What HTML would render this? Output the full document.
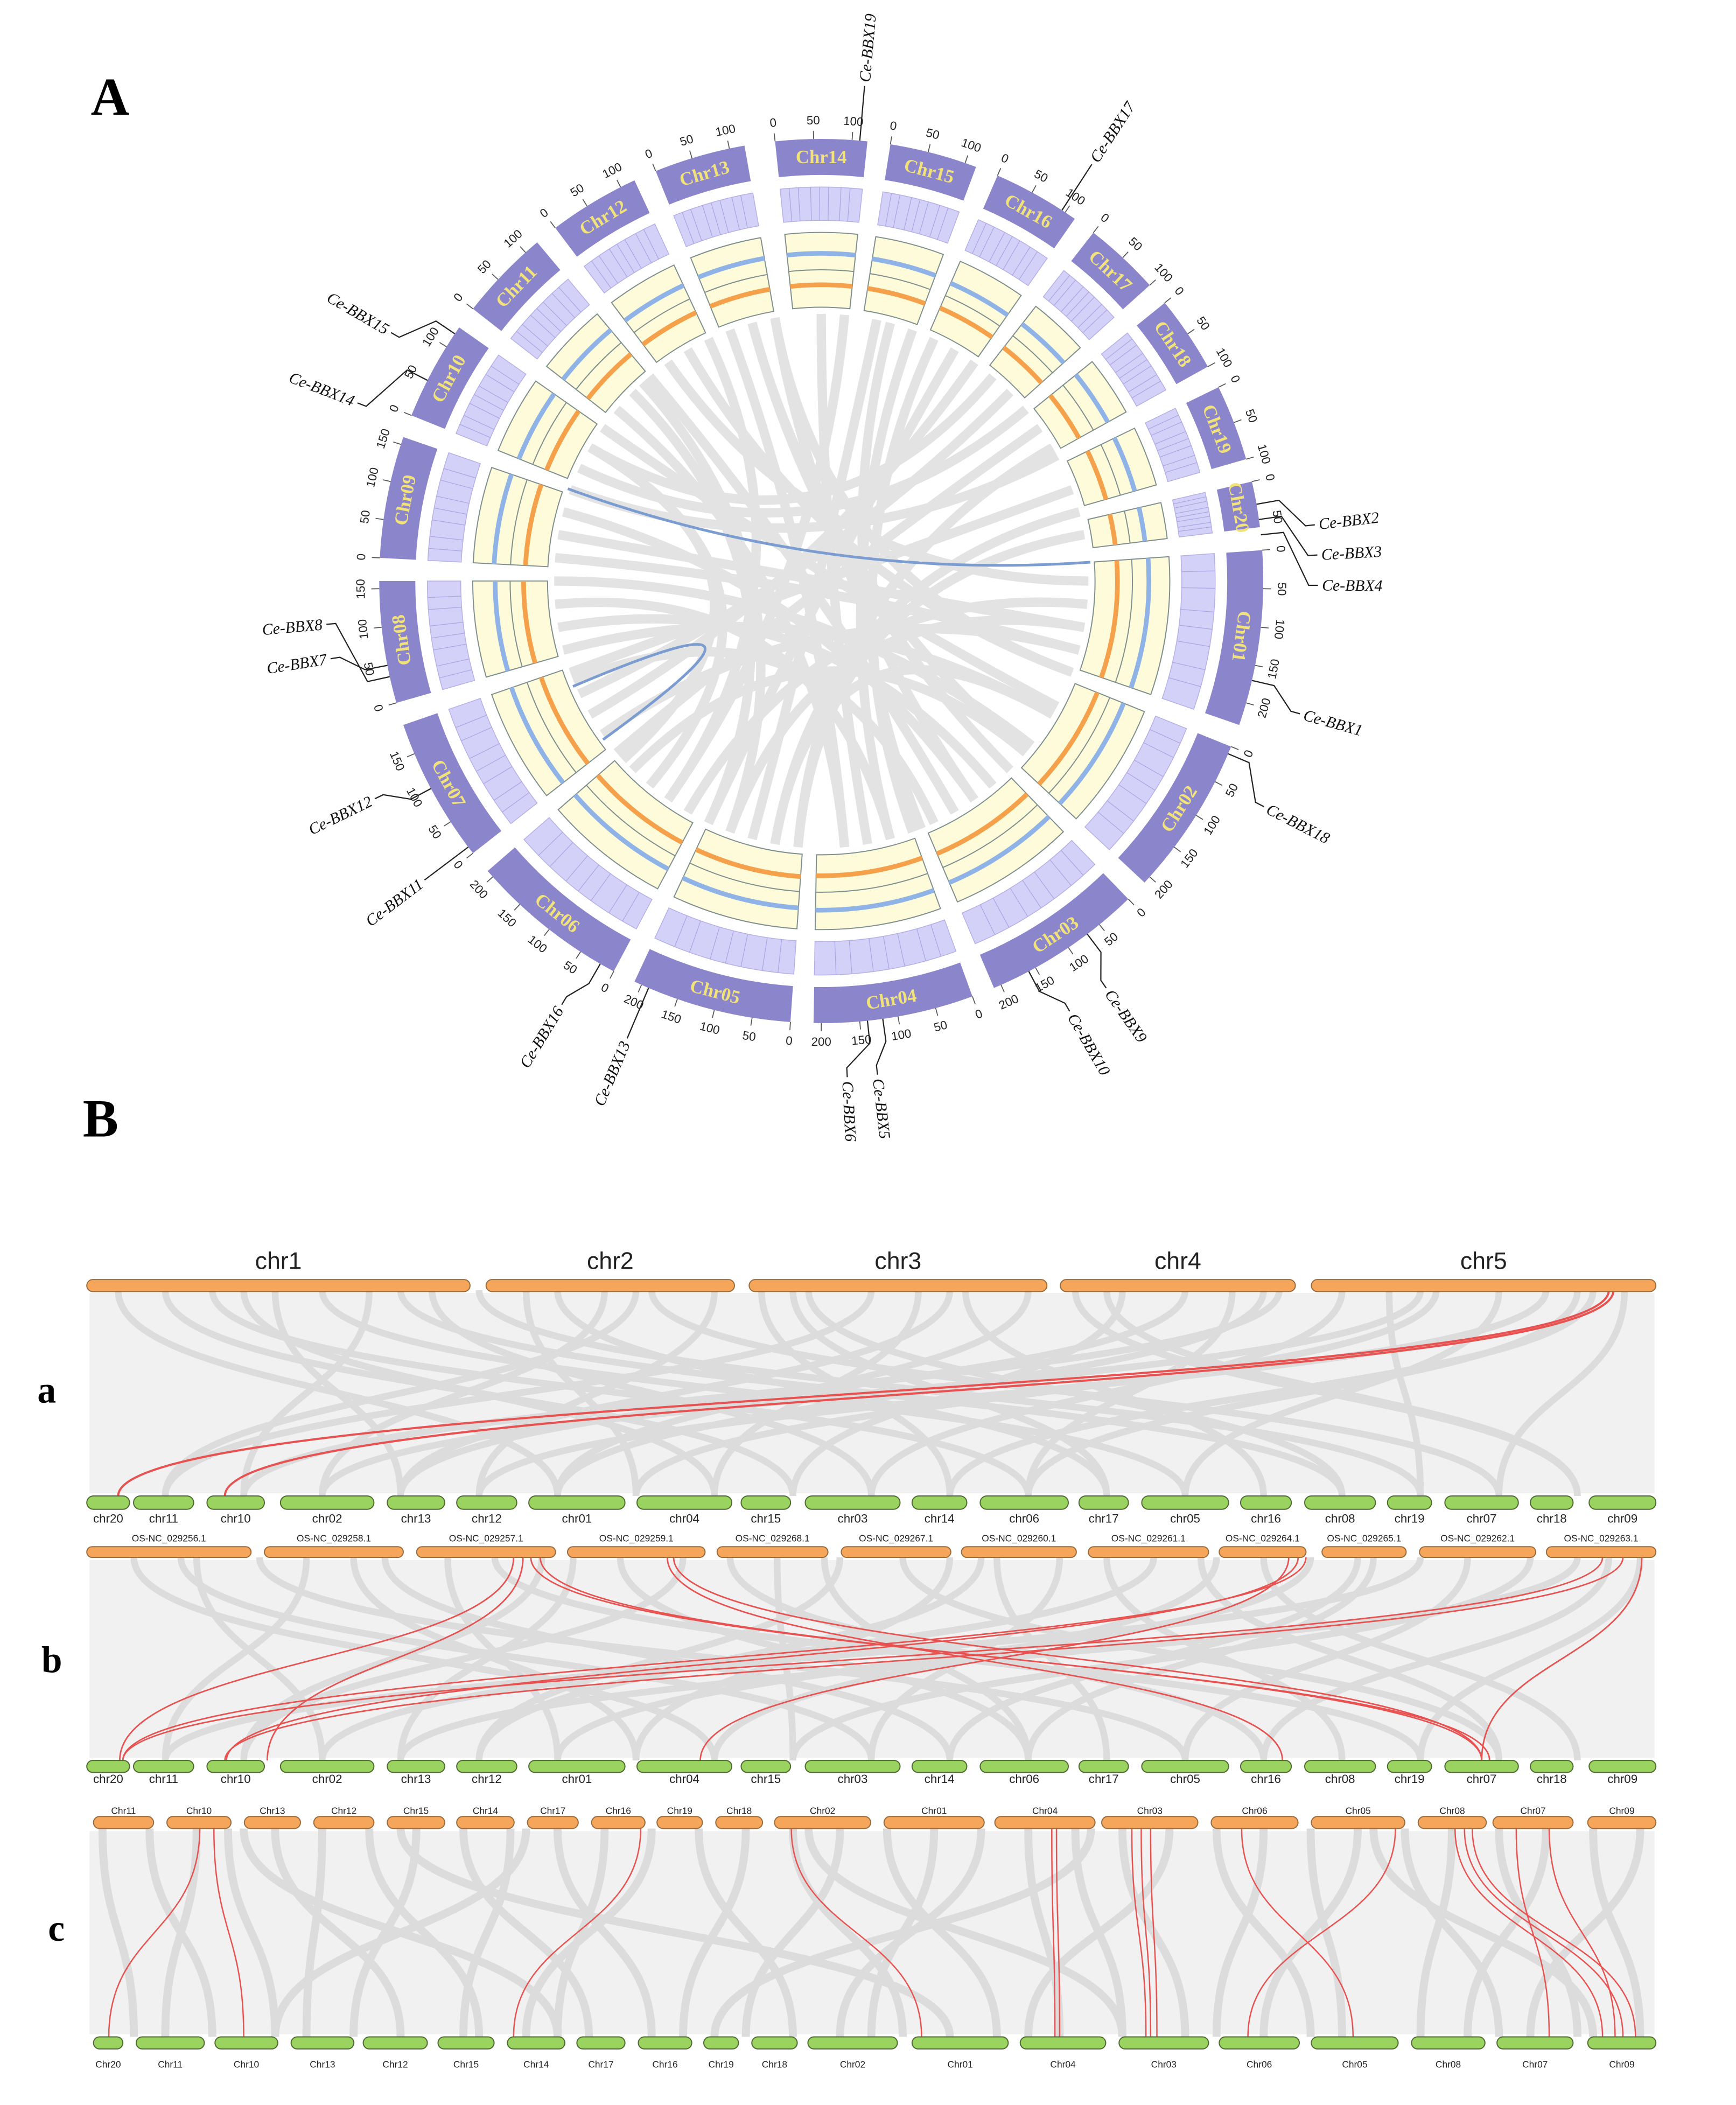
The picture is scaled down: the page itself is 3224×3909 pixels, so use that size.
<!DOCTYPE html>
<html><head><meta charset="utf-8"><style>
html,body{margin:0;padding:0;background:#fff;}
svg{display:block;}
</style></head><body>
<svg id="fig" xmlns="http://www.w3.org/2000/svg" width="3224" height="3909" viewBox="0 0 1300 1576" preserveAspectRatio="none">
<rect width="1300" height="1576" fill="#fff"/>
<text x="68" y="86" font-family="Liberation Serif, serif" font-weight="bold" font-size="40">A</text>
<text x="62" y="851" font-family="Liberation Serif, serif" font-weight="bold" font-size="40">B</text>
<text x="28" y="1050" font-family="Liberation Serif, serif" font-weight="bold" font-size="28">a</text>
<text x="31" y="1252" font-family="Liberation Serif, serif" font-weight="bold" font-size="28">b</text>
<text x="36" y="1453" font-family="Liberation Serif, serif" font-weight="bold" font-size="28">c</text>
<g id="circos"></g>
<g id="synteny"></g>
</svg>
<script>
// ---------- Circos data ----------
const chrNames = ["Chr14","Chr15","Chr16","Chr17","Chr18","Chr19","Chr20","Chr01","Chr02","Chr03","Chr04","Chr05","Chr06","Chr07","Chr08","Chr09","Chr10","Chr11","Chr12","Chr13"];
const chrSizes = [120,115,115,100,100,100,60,230,210,210,210,210,210,190,160,160,130,120,120,120];
const blueLevel = [0.72,0.7,0.68,0.7,0.72,0.7,0.7,0.72,0.7,0.72,0.74,0.72,0.7,0.72,0.7,0.72,0.7,0.72,0.7,0.72];
const orangeLevel = [0.3,0.3,0.32,0.3,0.28,0.3,0.3,0.3,0.32,0.3,0.28,0.3,0.3,0.3,0.32,0.3,0.3,0.3,0.3,0.3];
const linkFrom = [12,25,40,55,70,95,100,110,120,130,140,150,165,175,185,200,215,225,240,255,265,285,295,310,325,335,345,0,30,45,62,80,105,118,128,145,158,190,205,220,248,275,300,318,350];
const linkTo   = [195,160,300,230,250,210,280,330,190,345,260,320,20,340,60,100,5,130,35,120,165,145,50,175,90,215,135,170,205,245,290,185,235,305,270,350,15,75,315,300,155,105,228,200,110];
const blueFrom = [290,247];
const blueTo = [86,234];
const geneNames = ["Ce-BBX19","Ce-BBX17","Ce-BBX2","Ce-BBX3","Ce-BBX4","Ce-BBX1","Ce-BBX18","Ce-BBX9","Ce-BBX10","Ce-BBX5","Ce-BBX6","Ce-BBX13","Ce-BBX16","Ce-BBX11","Ce-BBX12","Ce-BBX7","Ce-BBX8","Ce-BBX14","Ce-BBX15"];
const genePos = [5,33,80,82,84,103,113,143,152,172,174,203,210,233,242,259,257.5,297,304];
const geneLabelAng = [5,33,83.5,87,90.5,105.5,117,145,150,173.5,177,203,211.5,233,244,261,265,291,300];

const NS="http://www.w3.org/2000/svg";
const cx=615, cy=435, scale=0.1, gap=3, start=-6;
function P(r,a){const t=a*Math.PI/180;return [cx+r*Math.sin(t), cy-r*Math.cos(t)];}
function sector(r1,r2,a1,a2){
  const p1=P(r2,a1),p2=P(r2,a2),p3=P(r1,a2),p4=P(r1,a1);const lg=(a2-a1)>180?1:0;
  return `M${p1} A${r2},${r2} 0 ${lg} 1 ${p2} L${p3} A${r1},${r1} 0 ${lg} 0 ${p4}Z`;
}
function arcPath(r,a1,a2){const p1=P(r,a1),p2=P(r,a2);return `M${p1} A${r},${r} 0 0 1 ${p2}`;}
function mk(tag,attrs,parent){const e=document.createElementNS(NS,tag);for(const k in attrs)e.setAttribute(k,attrs[k]);parent.appendChild(e);return e;}
const circ=document.getElementById('circos');

// angles
const chrStart=[];let acc=start;
chrSizes.forEach((s,i)=>{chrStart.push(acc);acc+=s*scale+gap;});

// inner gray links
linkFrom.forEach((a,i)=>{
  const p1=P(200,a),p2=P(200,linkTo[i]);
  const el=mk('path',{d:`M${p1} Q${cx},${cy} ${p2}`,fill:'none',stroke:'#e3e3e3','stroke-width':7},circ);
  
  
});
blueFrom.forEach((a,i)=>{
  const p1=P(202,a),p2=P(202,blueTo[i]);
  const el=mk('path',{d:`M${p1} Q${cx},${cy} ${p2}`,fill:'none',stroke:'#7a9cd0','stroke-width':2},circ);
  
  
});

chrNames.forEach((n,i)=>{
  const a1=chrStart[i],a2=a1+chrSizes[i]*scale;
  let el=mk('path',{d:sector(304,331,a1,a2),fill:'#8b86cc'},circ);
  
  
  el=mk('path',{d:sector(270,295,a1,a2),fill:'#d3d1f7',stroke:'#b3b0e6','stroke-width':0.6},circ);
  
  
  for(let k=1;k<8;k++){const aa=a1+(a2-a1)*((k*0.37)%1);const q1=P(270,aa),q2=P(295,aa);
    const ln=mk('line',{x1:q1[0],y1:q1[1],x2:q2[0],y2:q2[1],stroke:'#a9a5e4','stroke-width':0.5},circ);
    
    }
  el=mk('path',{d:sector(205,261,a1,a2),fill:'#fdfbd9',stroke:'#7f8f8f','stroke-width':0.8},circ);
  
  
  el=mk('path',{d:arcPath(233,a1,a2),fill:'none',stroke:'#7f8f8f','stroke-width':0.8},circ);
  
  
  el=mk('path',{d:arcPath(205+56*blueLevel[i],a1,a2),fill:'none',stroke:'#8fb3e6','stroke-width':3.5},circ);
  
  
  el=mk('path',{d:arcPath(205+56*orangeLevel[i],a1,a2),fill:'none',stroke:'#f5a04a','stroke-width':3.5},circ);
  
  
  // label
  const mid=(a1+a2)/2;const lp=P(317.5,mid);
  let rot = (mid>100 && mid<260)? mid-180 : mid;
  el=mk('text',{x:lp[0],y:lp[1],'text-anchor':'middle','dominant-baseline':'central',transform:`rotate(${rot} ${lp[0]} ${lp[1]})`,'font-family':'Liberation Serif, serif','font-weight':'bold','font-size':14,fill:'#f2e27a'},circ);
  el.textContent=n;
  
  
  // ticks
  for(let v=0;v<=chrSizes[i];v+=50){
    const aa=a1+v*scale;const t1=P(331,aa),t2=P(337,aa),tp=P(345,aa);
    el=mk('line',{x1:t1[0],y1:t1[1],x2:t2[0],y2:t2[1],stroke:'#555','stroke-width':0.7},circ);
    
    
    const tr=(aa>100&&aa<260)?aa-180:aa;
    el=mk('text',{x:tp[0],y:tp[1],'text-anchor':'middle','dominant-baseline':'central',transform:`rotate(${tr} ${tp[0]} ${tp[1]})`,'font-family':'Liberation Sans, sans-serif','font-size':9,fill:'#222'},circ);
    el.textContent=v;
    
    
  }
});

// gene labels
geneNames.forEach((g,i)=>{
  const a=genePos[i],b=geneLabelAng[i];
  const p1=P(331,a),p2=P(348,a),p3=P(365,b),p4=P(372,b);
  let el=mk('path',{d:`M${p1} L${p2} L${p3} L${p4}`,fill:'none',stroke:'#222','stroke-width':0.9},circ);
  
  
  const tp=P(375,b);const left=b>180;
  const rot=left?b+90:b-90;
  el=mk('text',{x:tp[0],y:tp[1],'text-anchor':left?'end':'start','dominant-baseline':'central',transform:`rotate(${rot} ${tp[0]} ${tp[1]})`,'font-family':'Liberation Serif, serif','font-style':'italic','font-size':12,fill:'#111'},circ);
  el.textContent=g;
  
  
});

// ---------- Synteny data ----------
const aTopNames=["chr1","chr2","chr3","chr4","chr5"];
const aTopSpan=[[65,352],[364,550],[561,784],[794,970],[982,1240]];
const grnNames=["chr20","chr11","chr10","chr02","chr13","chr12","chr01","chr04","chr15","chr03","chr14","chr06","chr17","chr05","chr16","chr08","chr19","chr07","chr18","chr09"];
const grnSpan=[[65,97],[100,145],[155,198],[210,280],[290,333],[342,387],[396,468],[477,548],[555,592],[603,674],[683,724],[734,800],[808,845],[855,920],[929,967],[977,1030],[1039,1072],[1082,1137],[1146,1178],[1190,1240]];
const osNames=["OS-NC_029256.1","OS-NC_029258.1","OS-NC_029257.1","OS-NC_029259.1","OS-NC_029268.1","OS-NC_029267.1","OS-NC_029260.1","OS-NC_029261.1","OS-NC_029264.1","OS-NC_029265.1","OS-NC_029262.1","OS-NC_029263.1"];
const osSpan=[[65,188],[198,302],[312,416],[425,528],[537,620],[630,712],[720,806],[815,905],[913,978],[990,1053],[1063,1150],[1158,1240]];
const cTopNames=["Chr11","Chr10","Chr13","Chr12","Chr15","Chr14","Chr17","Chr16","Chr19","Chr18","Chr02","Chr01","Chr04","Chr03","Chr06","Chr05","Chr08","Chr07","Chr09"];
const cTopSpan=[[70,115],[125,173],[183,225],[235,280],[290,333],[342,385],[395,433],[443,483],[492,526],[536,571],[580,652],[662,737],[745,820],[825,897],[907,972],[982,1052],[1062,1113],[1118,1178],[1189,1240]];
const cBotNames=["Chr20","Chr11","Chr10","Chr13","Chr12","Chr15","Chr14","Chr17","Chr16","Chr19","Chr18","Chr02","Chr01","Chr04","Chr03","Chr06","Chr05","Chr08","Chr07","Chr09"];
const cBotSpan=[[70,92],[102,153],[161,208],[218,265],[272,320],[328,370],[380,423],[432,468],[478,518],[527,553],[563,597],[605,672],[683,755],[764,828],[838,905],[913,973],[982,1047],[1057,1112],[1121,1178],[1189,1240]];
// gray links (percent of row width)
const aGrayTop=[2,5,8,12,15,18,22,25,28,30,33,36,40,43,46,50,53,56,60,63,66,70,73,76,80,83,86,90,93,96,98,10,20,35,45,55,65,75,85,95];
const aGrayBot=[30,45,60,20,70,10,50,85,35,65,15,90,25,55,80,5,40,75,30,95,45,20,60,10,50,85,35,70,25,55,90,40,80,5,65,20,95,30,15,60];
const bGrayTop=[3,7,11,14,19,23,26,31,34,38,41,44,48,52,55,58,62,65,68,72,75,78,82,85,88,92,95,99,6,17,29,47,57,71,81,97];
const bGrayBot=[40,15,70,5,55,30,85,20,60,10,75,45,25,90,35,65,50,80,15,40,95,30,60,5,70,45,20,85,50,35,10,60,25,90,55,75];
const cGrayTop=[1,4,7,9,12,15,18,21,24,27,30,33,36,39,42,45,48,51,54,57,60,63,66,69,72,75,78,81,84,87,90,93,96,99,10,28,46,64,82,20];
const cGrayBot=[3,8,5,12,20,14,25,17,32,24,36,30,28,45,38,52,42,58,50,48,62,66,70,60,78,72,80,75,90,85,95,88,99,92,30,12,66,40,96,55];
// red links (percent of row width)
const aRedTop=[97,97.3];
const aRedBot=[2,8.8];
const bRedTop=[27.2,27.8,28.3,28.9,37,37.4,76.6,77.2,77.7,96.6,97.9,99.1];
const bRedBot=[2.1,11.5,89.4,88.9,76.2,88.9,39.1,8.9,2.3,2.3,8.8,88.9];
const cRedTop=[7.2,8.1,35.3,44.9,61.5,61.8,66.6,67.2,67.8,73.6,83.4,87.2,87.8,88.3,91.1,93.2];
const cRedBot=[1.4,10,27.2,53.2,61.7,62,67.5,67.8,68.2,80.7,74,96.6,97.9,98.7,93.2,97.4];

const syn=document.getElementById('synteny');
const X=p=>65+p*11.75;
function bars(names,spans,y,h,fill,stroke,labelY,fs,prefix){
  names.forEach((n,i)=>{
    const [x1,x2]=spans[i];
    let el=mk('rect',{x:x1,y:y,width:x2-x1,height:h,rx:h/2,fill:fill,stroke:stroke,'stroke-width':0.8},syn);
    
    
    el=mk('text',{x:(x1+x2)/2,y:labelY,'text-anchor':'middle','font-family':'Liberation Sans, sans-serif','font-size':fs,fill:'#222'},syn);
    el.textContent=n;
    
    
  });
}
function links(tops,bots,y1,y2,color,w,name){
  tops.forEach((t,i)=>{
    const x1=X(t),x2=X(bots[i]),ym=(y1+y2)/2;
    const el=mk('path',{d:`M${x1},${y1} C${x1},${ym} ${x2},${ym} ${x2},${y2}`,fill:'none',stroke:color,'stroke-width':w},syn);
    
    
  });
}
function bg(y1,y2,name){
  const el=mk('rect',{x:67,y:y1,width:1172,height:y2-y1,fill:'#f1f1f1'},syn);
  
  
}
// panel a
bg(968,1118,'panel-a-background');
links(aGrayTop,aGrayBot,966,1120,'#dcdcdc',5,'panel-a-gray-link');
links(aRedTop,aRedBot,966,1120,'#e8514f',1.6,'panel-a-red-link');
bars(aTopNames,aTopSpan,958,9,'#f6a65a','#9a6a3a',950,18,'panel-a-top');
bars(grnNames,grnSpan,1120,10,'#9ad35f','#4e6a30',1140,9,'panel-a-bottom');
// panel b
bg(1168,1316,'panel-b-background');
links(bGrayTop,bGrayBot,1166,1318,'#dcdcdc',5,'panel-b-gray-link');
links(bRedTop,bRedBot,1166,1318,'#e8514f',1.1,'panel-b-red-link');
bars(osNames,osSpan,1158,8,'#f6a65a','#9a6a3a',1154,7,'panel-b-top');
bars(grnNames,grnSpan,1318,9,'#9ad35f','#4e6a30',1335,9,'panel-b-bottom');
// panel c
bg(1371,1523,'panel-c-background');
links(cGrayTop,cGrayBot,1369,1525,'#dcdcdc',6,'panel-c-gray-link');
links(cRedTop,cRedBot,1369,1525,'#e8514f',1,'panel-c-red-link');
bars(cTopNames,cTopSpan,1360,9,'#f6a65a','#9a6a3a',1358,7,'panel-c-top');
bars(cBotNames,cBotSpan,1525,9,'#9ad35f','#4e6a30',1548,7,'panel-c-bottom');
</script>
</body></html>
